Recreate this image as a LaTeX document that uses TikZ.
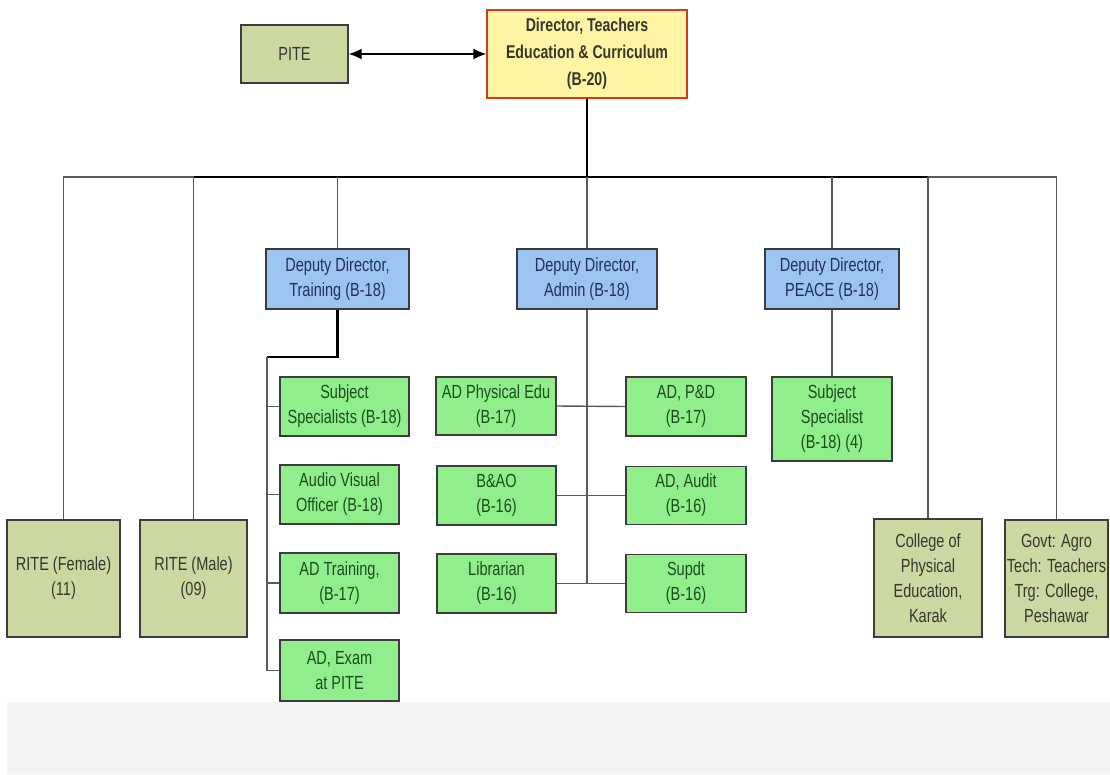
\documentclass[tikz,border=0pt]{standalone}
\usepackage{fontspec}
\setmainfont{Liberation Sans}[FakeStretch=0.765]
\usetikzlibrary{arrows.meta}
\definecolor{olivefill}{HTML}{CBD8A2}
\definecolor{greenfill}{HTML}{90EE8C}
\definecolor{bluefill}{HTML}{9CC4F0}
\definecolor{yellowfill}{HTML}{FFF4A3}
\definecolor{redline}{HTML}{D2381E}
\definecolor{boxline}{HTML}{3C3C3C}
\definecolor{wire}{HTML}{5A5A5A}
\definecolor{bluetext}{HTML}{22305C}
\definecolor{greentext}{HTML}{1C4C1C}
\definecolor{olivetext}{HTML}{36382A}
\definecolor{bandfill}{HTML}{F4F4F4}
\tikzset{
  box/.style={draw=boxline, line width=1.4pt, align=center, inner sep=0pt,
    font=\fontsize{19}{25}\selectfont},
  olivebox/.style={box, fill=olivefill, text=olivetext},
  greenbox/.style={box, fill=greenfill, text=greentext},
  bluebox/.style={box, fill=bluefill, text=bluetext},
  topbox/.style={box, fill=yellowfill, draw=redline, text=olivetext,
    font=\fontsize{18.5}{27}\selectfont\bfseries},
  wirethin/.style={draw=wire, line width=1.4pt},
  wirethick/.style={draw=black, line width=2.4pt},
}
\begin{document}
\begin{tikzpicture}[x=1pt, y=-1pt]
\useasboundingbox (0,0) rectangle (1110,774);
\fill[white] (0,0) rectangle (1110,774);
\fill[bandfill] (7,702) rectangle (1110,774);

% top level
\node[olivebox, minimum width=107, minimum height=58] (pite) at (294.5,54) {PITE};
\node[topbox, minimum width=200, minimum height=88] (dir) at (587,54)
  {Director, Teachers\\Education \& Curriculum\\(B-20)};

% deputy directors
\node[bluebox, minimum width=143, minimum height=60] (ddt) at (337.5,279) {Deputy Director,\\Training (B-18)};
\node[bluebox, minimum width=140, minimum height=60] (dda) at (587,279) {Deputy Director,\\Admin (B-18)};
\node[bluebox, minimum width=134, minimum height=60] (ddp) at (832,279) {Deputy Director,\\PEACE (B-18)};

% training section
\node[greenbox, minimum width=129, minimum height=59] (ss) at (344.5,406.5) {Subject\\Specialists (B-18)};
\node[greenbox, minimum width=119, minimum height=59] (avo) at (339.5,494.5) {Audio Visual\\Officer (B-18)};
\node[greenbox, minimum width=119, minimum height=60] (adt) at (339.5,583) {AD Training,\\(B-17)};
\node[greenbox, minimum width=119, minimum height=61] (ade) at (339.5,670.5) {AD, Exam\\at PITE};

% admin section
\node[greenbox, minimum width=120, minimum height=58] (adpe) at (496,406) {AD Physical Edu\\(B-17)};
\node[greenbox, minimum width=120, minimum height=59] (adpd) at (686,406.5) {AD, P\&D\\(B-17)};
\node[greenbox, minimum width=119, minimum height=59] (bao) at (496.5,495.5) {B\&AO\\(B-16)};
\node[greenbox, minimum width=120, minimum height=58] (ada) at (686,495.5) {AD, Audit\\(B-16)};
\node[greenbox, minimum width=119, minimum height=59] (lib) at (496.5,583.5) {Librarian\\(B-16)};
\node[greenbox, minimum width=120, minimum height=58] (sup) at (686,583.5) {Supdt\\(B-16)};

% PEACE section
\node[greenbox, minimum width=120, minimum height=84] (ssp) at (832,419) {Subject\\Specialist\\(B-18) (4)};

% attached institutions
\node[olivebox, minimum width=113, minimum height=117] (ritef) at (63.5,578.5) {RITE (Female)\\(11)};
\node[olivebox, minimum width=107, minimum height=117] (ritem) at (193.5,578.5) {RITE (Male)\\(09)};
\node[olivebox, minimum width=108, minimum height=118] (cpe) at (928,578) {College of\\Physical\\Education,\\Karak};
\node[olivebox, minimum width=103, minimum height=117] (gat) at (1056.5,578.5) {Govt: Agro\\Tech: Teachers\\Trg: College,\\Peshawar};

% PITE link
\draw[line width=1.5pt, {Latex[length=13pt,width=11pt]}-{Latex[length=13pt,width=11pt]}] (pite) -- (dir);

% distribution bus
\coordinate (bus) at (587,177);
\draw[wirethick] (dir.south) -- (bus);
\draw[wirethin] (ritef.north) |- (bus);
\draw[wirethin] (gat.north) |- (bus);
\draw[wirethick] (ritem.north |- bus) -- (cpe.north |- bus);
\draw[wirethin] (ritem.north) -- (ritem.north |- bus);
\draw[wirethin] (ddt.north) -- (ddt.north |- bus);
\draw[wirethin] (dda.north) -- (dda.north |- bus);
\draw[wirethin] (ddp.north) -- (ddp.north |- bus);
\draw[wirethin] (cpe.north) -- (cpe.north |- bus);

% training branch
\coordinate (tj) at (267,357);
\draw[wirethick, line join=miter] (ddt.south) |- (tj);
\draw[wirethin] (tj) |- (ade.west);
\draw[wirethin] (tj |- ss.west) -- (ss.west);
\draw[wirethin] (tj |- avo.west) -- (avo.west);
\draw[wirethin] (tj |- adt.west) -- (adt.west);

% admin branch
\draw[wirethin] (dda.south) -- (dda.south |- lib.east);
\draw[wirethin] (adpe.east) -- (adpd.west);
\draw[wirethin] (bao.east) -- (ada.west);
\draw[wirethin] (lib.east) -- (sup.west);

% PEACE branch
\draw[wirethin] (ddp.south) -- (ssp.north);
\end{tikzpicture}
\end{document}
